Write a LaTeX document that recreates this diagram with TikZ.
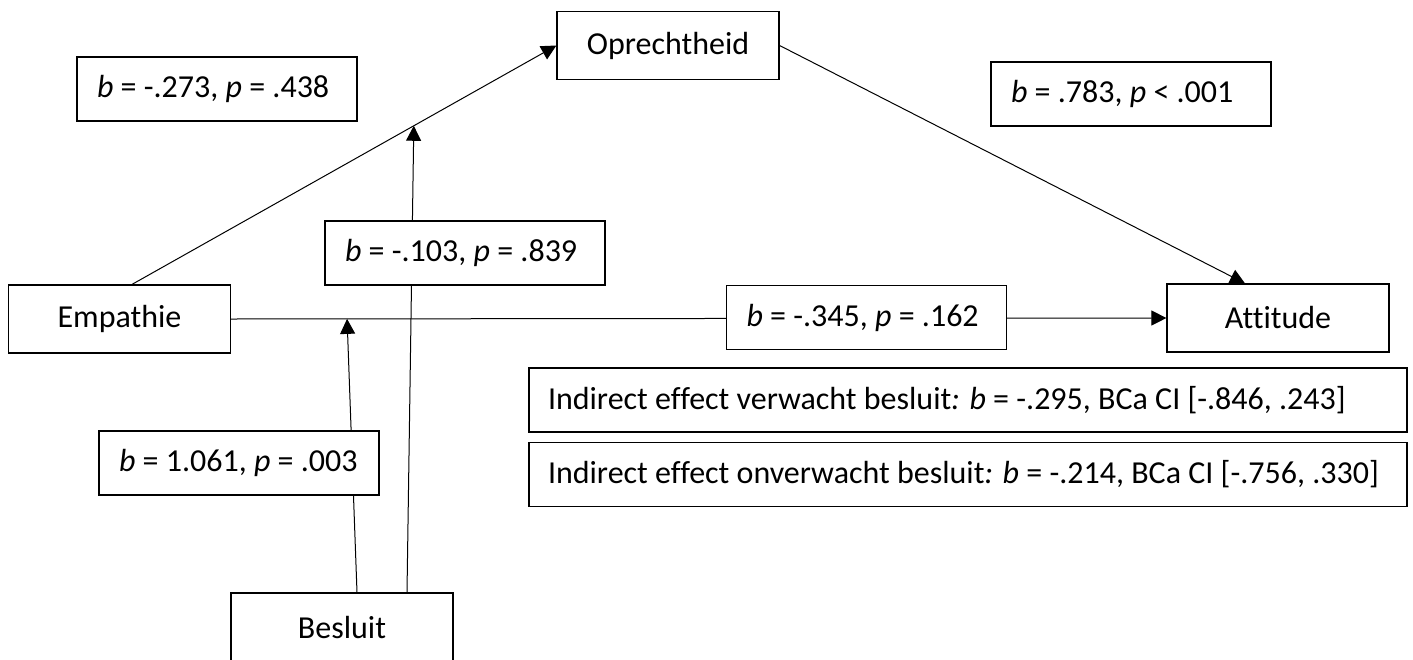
\documentclass[tikz,border=0pt]{standalone}
\usepackage{fontspec}
\setmainfont{Carlito}[Ligatures=NoCommon]
\usetikzlibrary{arrows.meta, calc}

\newcommand{\statline}[1]{\makebox[120pt][l]{#1}}
\newcommand{\effline}[1]{\makebox[420pt][l]{#1}}

\tikzset{
    var/.style={draw, line width=0.6pt, minimum width=111pt, minimum height=34pt, inner sep=0pt},
    stat/.style={draw, line width=0.6pt, fill=white, inner xsep=10pt, inner ysep=0pt, minimum height=32pt},
    effect/.style={draw, line width=0.6pt, fill=white, inner xsep=9.5pt, inner ysep=0pt, minimum height=32pt},
    arr/.style={line width=0.5pt, -{Triangle[length=7.5pt, width=7.5pt]}}
}

\begin{document}
\begin{tikzpicture}[x=0.5pt, y=-0.5pt, font=\fontsize{16}{19}\selectfont]
    \useasboundingbox (0,0) rectangle (1413,659);
    \clip (0,0) rectangle (1413,659);

    % Variables
    \node[var] (Oprechtheid) at (668,45.5) {Oprechtheid};
    \node[var] (Empathie) at (119.5,319) {Empathie};
    \node[var] (Attitude) at (1278,318) {Attitude};
    \node[var] (Besluit) at (342,627) {Besluit};

    % Points where the moderator arrows land
    \coordinate (eStart) at ([xshift=6.25pt]Empathie.north);
    \coordinate (modO) at ($(eStart)!0.664!(Oprechtheid.west)$);
    \coordinate (modA) at ($(Empathie.east)!0.124!(Attitude.west)$);

    % Paths
    \draw[arr] (eStart) -- (Oprechtheid.west);
    \draw[arr] (Oprechtheid.east) -- ([xshift=-16.5pt]Attitude.north);
    \draw[arr] (Empathie.east) -- (Attitude.west);
    \draw[arr] ([xshift=7.5pt]Besluit.north) -- (modA);
    \draw[arr] ([xshift=32.5pt]Besluit.north) -- (modO);

    % Coefficients
    \node[stat] (coefEO) at (217,89) {\statline{\textit{b} = -.273, \textit{p} = .438}};
    \node[stat] (coefOA) at (1131,94) {\statline{\textit{b} = .783, \textit{p} < .001}};
    \node[stat] (coefBO) at (465,253) {\statline{\textit{b} = -.103, \textit{p} = .839}};
    \node[stat] (coefEA) at (866.5,317.5) {\statline{\textit{b} = -.345, \textit{p} = .162}};
    \node[stat] (coefBA) at (239,463) {\statline{\textit{b} = 1.061, \textit{p} = .003}};

    % Indirect effects
    \node[effect] (indVerw) at (968,400) {\effline{Indirect effect verwacht besluit\textit{:} \textit{b} = -.295, BCa CI [-.846, .243]}};
    \node[effect] (indOnv) at (968,474.5) {\effline{Indirect effect onverwacht besluit\textit{:} \textit{b} = -.214, BCa CI [-.756, .330]}};
\end{tikzpicture}
\end{document}
